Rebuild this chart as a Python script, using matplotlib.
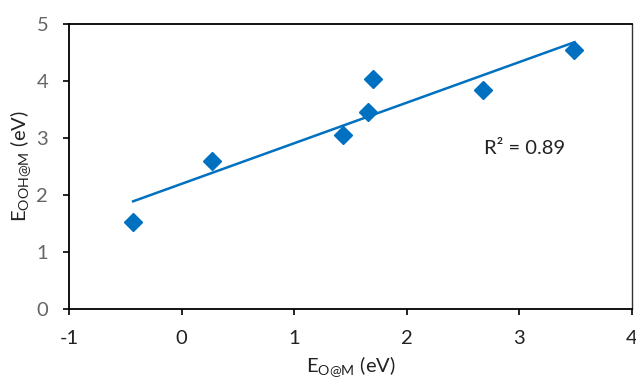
import numpy as np
import matplotlib.pyplot as plt

# Data
e_o = [-0.43, 0.27, 1.43, 1.66, 1.70, 2.68, 3.49]
e_ooh = [1.53, 2.60, 3.06, 3.45, 4.03, 3.85, 4.54]
x_ticks = [-1, 0, 1, 2, 3, 4]
y_ticks = [0, 1, 2, 3, 4, 5]
r2_label = "R² = 0.89"

blue = "#0070C0"
plt.rcParams['font.family'] = ['Lato', 'DejaVu Sans']
plt.rcParams['mathtext.fontset'] = 'custom'
plt.rcParams['mathtext.rm'] = 'Lato'

fig = plt.figure(figsize=(6.36, 3.84), dpi=100)
ax = fig.add_axes([0.1085, 0.1953, 0.885, 0.7422])

ax.plot(e_o, e_ooh, 'D', color=blue, markersize=9, zorder=3)

# linear trendline
slope, icpt = np.polyfit(e_o, e_ooh, 1)
xs = np.array([min(e_o), max(e_o)])
ax.plot(xs, slope * xs + icpt, color=blue, linewidth=1.8, zorder=2)

ax.text(2.69, 2.82, r2_label, fontsize=14.5, color='#222222', va='center', ha='left')

ax.set_xlim(-1, 4)
ax.set_ylim(0, 5)
ax.set_xticks(x_ticks)
ax.set_yticks(y_ticks)
ax.set_xticklabels([str(t) for t in x_ticks], fontsize=14.5, color='#222222')
ax.set_yticklabels([str(t) for t in y_ticks], fontsize=14.5, color='#666666')
ax.tick_params(direction='out', length=4, width=1.2, color='black')
ax.tick_params(axis='x', pad=11)
ax.tick_params(axis='y', pad=11)

for side in ['left', 'bottom', 'top']:
    ax.spines[side].set_linewidth(1.3)
    ax.spines[side].set_color('black')
ax.spines['right'].set_linewidth(1.0)
ax.spines['right'].set_color('#333333')

ax.set_xlabel(r'E$_{\mathrm{O@M}}$ (eV)', fontsize=14.5, color='#222222', labelpad=6)
ax.set_ylabel(r'E$_{\mathrm{OOH@M}}$ (eV)', fontsize=14.5, color='#222222', labelpad=2)

fig.savefig('out.png', dpi=100)
